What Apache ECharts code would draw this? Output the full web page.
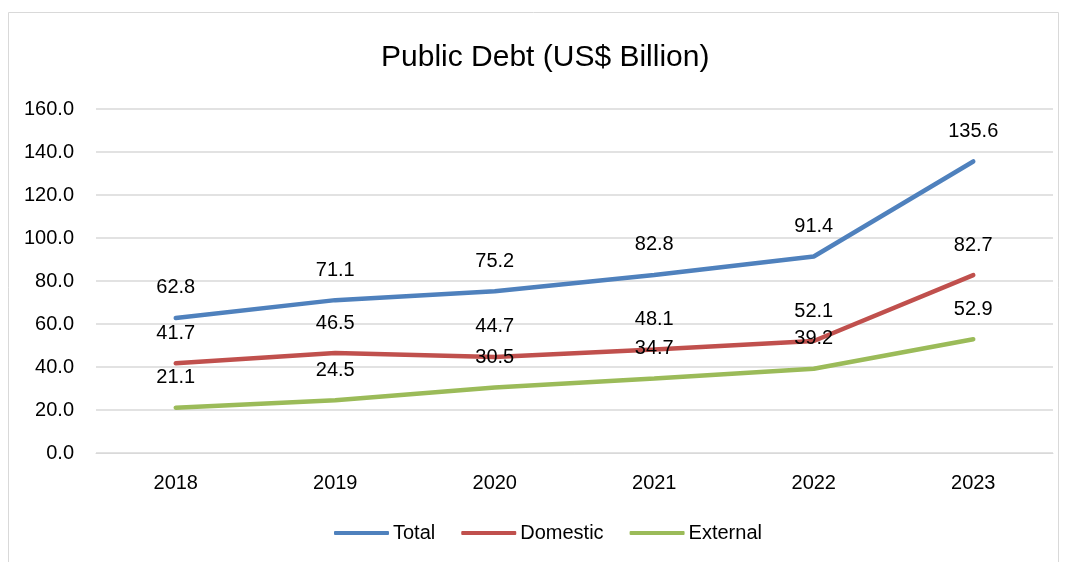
<!DOCTYPE html>
<html><head><meta charset="utf-8">
<script src="https://cdn.jsdelivr.net/npm/echarts@6/dist/echarts.min.js"></script>
<style>html,body{margin:0;padding:0;background:#fff}#c{width:1069px;height:562px}</style>
</head><body><div id="c"></div>
<script>
const categories = ['2018','2019','2020','2021','2022','2023'];
const total = [62.8, 71.1, 75.2, 82.8, 91.4, 135.6];
const domestic = [41.7, 46.5, 44.7, 48.1, 52.1, 82.7];
const external = [21.1, 24.5, 30.5, 34.7, 39.2, 52.9];
const yTicks = {min: 0, max: 160, interval: 20};

const FONT = '"Liberation Sans Narrow","Arial Narrow","Liberation Sans",Arial,sans-serif';
const chart = echarts.init(document.getElementById('c'));
function mk(name, data, color) {
  return {
    name, type: 'line', data, symbol: 'circle', symbolSize: 0, showSymbol: true, smooth: false,
    lineStyle: {color, width: 4.5, cap: 'round'}, itemStyle: {color},
    label: {show: true, position: 'top', distance: 20, color: '#000', fontFamily: FONT, fontSize: 20,
      formatter: p => p.value.toFixed(1)},
    labelLayout: {hideOverlap: false},
    z: 2
  };
}
chart.setOption({
  animation: false,
  graphic: [{type: 'rect', shape: {x: 8.5, y: 12.5, width: 1050, height: 560}, style: {fill: 'none', stroke: '#d9d9d9', lineWidth: 1}}],
  title: {text: 'Public Debt (US$ Billion)', left: 376, top: 38, textStyle: {fontFamily: FONT, fontSize: 30, fontWeight: 'normal', color: '#000'}},
  legend: {bottom: 14, left: 329, itemWidth: 55, itemHeight: 4, itemGap: 26, icon: 'roundRect',
    textStyle: {fontFamily: FONT, fontSize: 20, color: '#000', padding: [0, 0, 0, -1]}, data: ['Total','Domestic','External']},
  grid: {left: 96, right: 16, top: 109, bottom: 109},
  xAxis: {type: 'category', data: categories, boundaryGap: true,
    axisLine: {show: true, lineStyle: {color: '#d9d9d9', width: 1}}, axisTick: {show: false},
    axisLabel: {fontFamily: FONT, fontSize: 20, color: '#000', margin: 20}},
  yAxis: {type: 'value', min: yTicks.min, max: yTicks.max, interval: yTicks.interval,
    axisLine: {show: false}, axisTick: {show: false},
    splitLine: {lineStyle: {color: '#d9d9d9', width: 1.5}},
    axisLabel: {fontFamily: FONT, fontSize: 20, color: '#000', margin: 22, formatter: v => v.toFixed(1)}},
  series: [mk('Total', total, '#4F81BD'), mk('Domestic', domestic, '#C0504D'), mk('External', external, '#9BBB59')]
});
</script></body></html>
